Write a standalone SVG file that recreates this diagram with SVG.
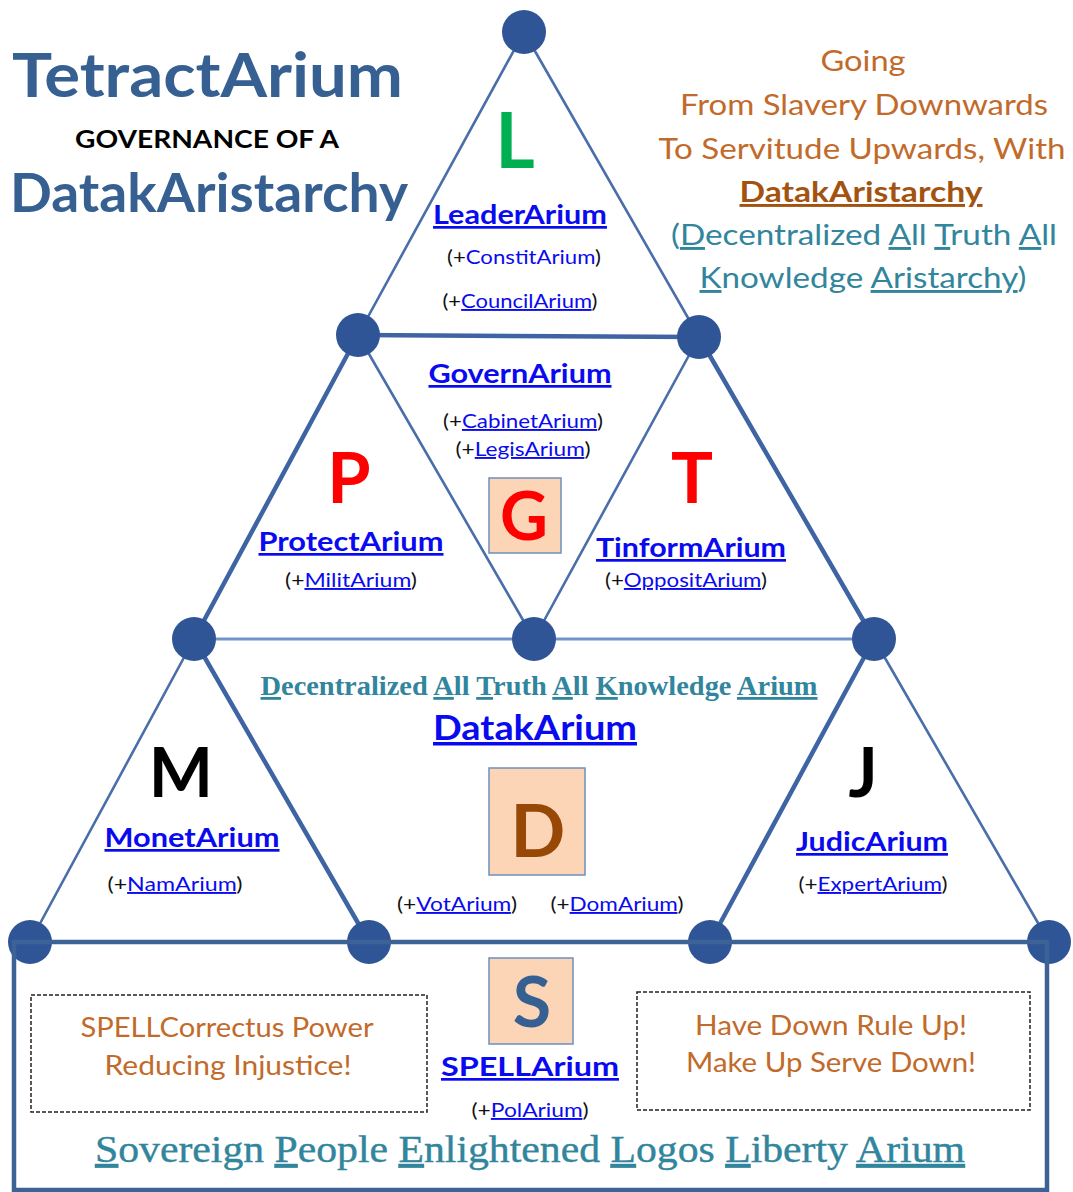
<svg xmlns="http://www.w3.org/2000/svg" width="1073" height="1192" viewBox="0 0 1073 1192">
<style>
.thick{stroke:#3f64a3;stroke-width:4.5;fill:none;stroke-linecap:round}
.thin{stroke:#4a6ea9;stroke-width:2.6;fill:none;stroke-linecap:round}
.light{stroke:#7393c8;stroke-width:3.2;fill:none}
.node{fill:#2f5597}
.sans{font-family:Lato,"Open Sans","Liberation Sans",sans-serif}
.serif{font-family:"Liberation Serif","DejaVu Serif",serif}
.title{fill:#376092;font-weight:bold}
.big{font-weight:bold;text-anchor:middle}
.lbl{font-weight:bold;fill:#0a0af0;text-decoration:underline;text-anchor:middle;font-size:27px}
.sub{font-size:19px;fill:#111;text-anchor:middle}
.lk{fill:#0a0af0}
.u{text-decoration:underline}
.org{fill:#c26a2a;text-anchor:middle}
.teal{fill:#31859c}
.box{fill:#fbd5b5;stroke:#6d8fc0;stroke-width:1.5}
.dash{fill:none;stroke:#222;stroke-width:1.5;stroke-dasharray:4 2}
</style>
<rect width="1073" height="1192" fill="#ffffff"/>

<g id="connectors">
  <line class="thin" x1="524" y1="32" x2="358" y2="335"/>
  <line class="thin" x1="524" y1="32" x2="699" y2="337"/>
  <line class="thick" x1="358" y1="335" x2="699" y2="337"/>
  <line class="thick" x1="358" y1="335" x2="194" y2="639"/>
  <line class="thin" x1="358" y1="335" x2="534" y2="639"/>
  <line class="thin" x1="699" y1="337" x2="534" y2="639"/>
  <line class="thick" x1="699" y1="337" x2="874" y2="639"/>
  <line class="light" x1="194" y1="639" x2="874" y2="639"/>
  <line class="thin" x1="194" y1="639" x2="30" y2="942"/>
  <line class="thick" x1="194" y1="639" x2="369" y2="942"/>
  <line class="thick" x1="874" y1="639" x2="710" y2="942"/>
  <line class="thin" x1="874" y1="639" x2="1049" y2="942"/>
</g>

<g id="nodes">
  <circle class="node" cx="524" cy="32" r="22"/>
  <circle class="node" cx="358" cy="335" r="22"/>
  <circle class="node" cx="699" cy="337" r="22"/>
  <circle class="node" cx="194" cy="639" r="22"/>
  <circle class="node" cx="534" cy="639" r="22"/>
  <circle class="node" cx="874" cy="639" r="22"/>
  <circle class="node" cx="30" cy="942" r="22"/>
  <circle class="node" cx="369" cy="942" r="22"/>
  <circle class="node" cx="710" cy="942" r="22"/>
  <circle class="node" cx="1049" cy="942" r="22"/>
</g>

<g id="base-frame">
  <path d="M14,1190 V942 H1047 V1190 Z" fill="none" stroke="#3d6396" stroke-width="4.5"/>
</g>

<g id="title" class="sans">
  <text class="title" x="12" y="97" font-size="62" textLength="391" lengthAdjust="spacingAndGlyphs">TetractArium</text>
  <text x="207" y="148" font-size="24" font-weight="bold" fill="#000" text-anchor="middle" textLength="264" lengthAdjust="spacingAndGlyphs">GOVERNANCE OF A</text>
  <text class="title" x="10" y="212" font-size="54" font-weight="600" textLength="398" lengthAdjust="spacingAndGlyphs">DatakAristarchy</text>
</g>

<g id="motto" class="sans" font-size="29">
  <text class="org" x="863" y="71" textLength="85" lengthAdjust="spacingAndGlyphs">Going</text>
  <text class="org" x="864" y="115" textLength="368" lengthAdjust="spacingAndGlyphs">From Slavery Downwards</text>
  <text class="org" x="862" y="159" textLength="407" lengthAdjust="spacingAndGlyphs">To Servitude Upwards, With</text>
  <text x="861" y="202" fill="#a3530f" font-weight="bold" text-anchor="middle" text-decoration="underline" textLength="243" lengthAdjust="spacingAndGlyphs">DatakAristarchy</text>
  <text class="teal" x="864" y="245" text-anchor="middle" textLength="386" lengthAdjust="spacingAndGlyphs">(<tspan class="u">D</tspan>ecentralized <tspan class="u">A</tspan>ll <tspan class="u">T</tspan>ruth <tspan class="u">A</tspan>ll</text>
  <text class="teal" x="863" y="288" text-anchor="middle" textLength="327" lengthAdjust="spacingAndGlyphs"><tspan class="u">K</tspan>nowledge <tspan class="u">Aristarchy</tspan>)</text>
</g>

<g id="leader" class="sans">
  <text class="big" x="515" y="168" font-size="76" fill="#00b050">L</text>
  <text class="lbl" x="520" y="224" textLength="174" lengthAdjust="spacingAndGlyphs">LeaderArium</text>
  <text class="sub" x="524" y="264" textLength="154" lengthAdjust="spacingAndGlyphs">(+<tspan class="lk">ConstitArium</tspan>)</text>
  <text class="sub" x="520" y="308" textLength="155" lengthAdjust="spacingAndGlyphs">(+<tspan class="lk u">CouncilArium</tspan>)</text>
</g>

<g id="govern" class="sans">
  <text class="lbl" x="520" y="383" textLength="183" lengthAdjust="spacingAndGlyphs">GovernArium</text>
  <text class="sub" x="523" y="428" textLength="160" lengthAdjust="spacingAndGlyphs">(+<tspan class="lk u">CabinetArium</tspan>)</text>
  <text class="sub" x="523" y="456" textLength="135" lengthAdjust="spacingAndGlyphs">(+<tspan class="lk u">LegisArium</tspan>)</text>
  <rect class="box" x="489" y="478" width="72" height="75"/>
  <text class="big" x="524" y="540" font-size="66" fill="#ff0000">G</text>
</g>

<g id="protect" class="sans">
  <text class="big" x="349" y="503" font-size="70" fill="#ff0000">P</text>
  <text class="lbl" x="351" y="551" textLength="185" lengthAdjust="spacingAndGlyphs">ProtectArium</text>
  <text class="sub" x="351" y="587" textLength="132" lengthAdjust="spacingAndGlyphs">(+<tspan class="lk u">MilitArium</tspan>)</text>
</g>

<g id="tinform" class="sans">
  <text class="big" x="692" y="503" font-size="70" fill="#ff0000">T</text>
  <text class="lbl" x="691" y="557" textLength="190" lengthAdjust="spacingAndGlyphs">TinformArium</text>
  <text class="sub" x="686" y="587" textLength="162" lengthAdjust="spacingAndGlyphs">(+<tspan class="lk u">OppositArium</tspan>)</text>
</g>

<g id="datak">
  <text class="serif teal" x="539" y="695" font-size="28" font-weight="bold" text-anchor="middle" textLength="557" lengthAdjust="spacingAndGlyphs"><tspan class="u">D</tspan>ecentralized <tspan class="u">A</tspan>ll <tspan class="u">T</tspan>ruth <tspan class="u">A</tspan>ll <tspan class="u">K</tspan>nowledge <tspan class="u">Arium</tspan></text>
  <text class="sans lbl" x="535" y="740" font-size="35" style="font-size:35px" textLength="204" lengthAdjust="spacingAndGlyphs">DatakArium</text>
  <rect class="box" x="489" y="768" width="96" height="107"/>
  <text class="sans big" x="538" y="857" font-size="72" fill="#974806">D</text>
  <text class="sans sub" x="457" y="911" textLength="120" lengthAdjust="spacingAndGlyphs">(+<tspan class="lk u">VotArium</tspan>)</text>
  <text class="sans sub" x="617" y="911" textLength="133" lengthAdjust="spacingAndGlyphs">(+<tspan class="lk u">DomArium</tspan>)</text>
</g>

<g id="monet" class="sans">
  <text class="big" x="181" y="797" font-size="68" fill="#000">M</text>
  <text class="lbl" x="192" y="847" textLength="175" lengthAdjust="spacingAndGlyphs">MonetArium</text>
  <text class="sub" x="175" y="891" textLength="135" lengthAdjust="spacingAndGlyphs">(+<tspan class="lk u">NamArium</tspan>)</text>
</g>

<g id="judic" class="sans">
  <text class="big" x="863" y="797" font-size="68" fill="#000">J</text>
  <text class="lbl" x="872" y="851" textLength="152" lengthAdjust="spacingAndGlyphs">JudicArium</text>
  <text class="sub" x="873" y="891" textLength="149" lengthAdjust="spacingAndGlyphs">(+<tspan class="lk u">ExpertArium</tspan>)</text>
</g>

<g id="spell" class="sans">
  <rect class="box" x="489" y="958" width="84" height="86"/>
  <text class="big" x="532" y="1027" font-size="70" fill="#376092">S</text>
  <text class="lbl" x="530" y="1076" textLength="178" lengthAdjust="spacingAndGlyphs">SPELLArium</text>
  <text class="sub" x="530" y="1117" textLength="117" lengthAdjust="spacingAndGlyphs">(+<tspan class="lk u">PolArium</tspan>)</text>
</g>

<g id="note-left" class="sans">
  <rect class="dash" x="31" y="995" width="396" height="117"/>
  <text class="org" x="227" y="1037" font-size="26" textLength="293" lengthAdjust="spacingAndGlyphs">SPELLCorrectus Power</text>
  <text class="org" x="228" y="1075" font-size="26" textLength="247" lengthAdjust="spacingAndGlyphs">Reducing Injustice!</text>
</g>

<g id="note-right" class="sans">
  <rect class="dash" x="637" y="992" width="393" height="118"/>
  <text class="org" x="831" y="1035" font-size="26" textLength="272" lengthAdjust="spacingAndGlyphs">Have Down Rule Up!</text>
  <text class="org" x="831" y="1072" font-size="26" textLength="290" lengthAdjust="spacingAndGlyphs">Make Up Serve Down!</text>
</g>

<g id="spell-expansion">
  <text class="serif teal" x="530" y="1162" font-size="38" text-anchor="middle" stroke="#31859c" stroke-width="0.4" textLength="870" lengthAdjust="spacingAndGlyphs"><tspan class="u">S</tspan>overeign <tspan class="u">P</tspan>eople <tspan class="u">E</tspan>nlightened <tspan class="u">L</tspan>ogos <tspan class="u">L</tspan>iberty <tspan class="u">Arium</tspan></text>
</g>
</svg>
